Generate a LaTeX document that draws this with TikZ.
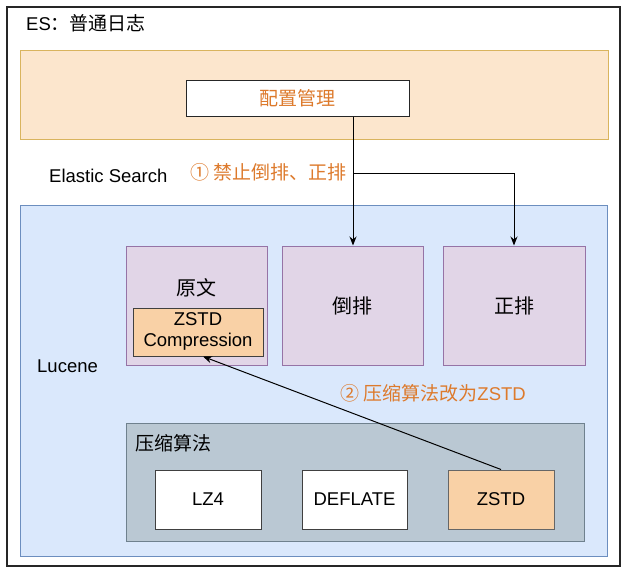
\documentclass[tikz,border=0pt]{standalone}
\usepackage{fontspec}
\setmainfont{Liberation Sans}
\newfontfamily\cjk{Noto Sans CJK SC}
\usetikzlibrary{arrows.meta,fit}
\definecolor{orfill}{HTML}{FCE6CD}
\definecolor{ordraw}{HTML}{D9B45E}
\definecolor{ortext}{HTML}{DD7A2C}
\definecolor{blfill}{HTML}{DAE8FC}
\definecolor{bldraw}{HTML}{6C8EBF}
\definecolor{pufill}{HTML}{E1D5E7}
\definecolor{pudraw}{HTML}{9673A6}
\definecolor{grfill}{HTML}{BAC8D3}
\definecolor{grdraw}{HTML}{6F818E}
\definecolor{zsfill}{HTML}{F9D1A6}
\newcommand{\lat}{\normalfont\fontsize{18.5}{21}\selectfont}
\newcommand{\zh}{\cjk\fontsize{19}{23}\selectfont}
\begin{document}
\begin{tikzpicture}[x=1pt,y=-1pt,
  box/.style={draw, rectangle, inner sep=0pt, line width=1pt},
  arr/.style={-{Stealth[length=9pt,width=7pt]}, line width=1pt, black}]
\useasboundingbox (0,0) rectangle (626,571);
% outer frame
\node[box, draw=black!85, line width=1.5pt, fit={(7,7) (620,566)}] (outer) {};
\node[anchor=west, inner sep=0pt] (title) at (26,23) {\lat ES\zh：普通日志};
% orange band
\node[box, fill=orfill, draw=ordraw, fit={(20,50) (608,139)}] (band) {};
\node[box, fill=white, draw=black!85, fit={(186,80) (409,116)}] (cfg) {};
\node[text=ortext, inner sep=0pt] (cfgtxt) at (cfg.center) {\zh 配置管理};
\node[anchor=west, inner sep=0pt] (eslabel) at (49,176) {\lat Elastic Search};
\node[anchor=east, inner sep=0pt, text=ortext] (step1) at (347,172) {\zh ① 禁止倒排、正排};
% Lucene
\node[box, fill=blfill, draw=bldraw, fit={(20,205) (607,556)}] (lucene) {};
\node[anchor=west, inner sep=0pt] (lucenelabel) at (37,366) {\lat Lucene};
\node[box, fill=pufill, draw=pudraw, fit={(126,246) (267,365)}] (yuanwen) {};
\node[inner sep=0pt] (ywtxt) at (196,288) {\zh\fontsize{20}{24}\selectfont 原文};
\node[box, fill=zsfill, draw=black!75, fit={(133,308) (263,356)}] (zc) {};
\node[inner sep=0pt, align=center, font=\lat] (zctxt) at ([yshift=1pt]zc.center) {ZSTD\\Compression};
\node[box, fill=pufill, draw=pudraw, fit={(282,246) (423,365)}] (daopai) {};
\node[inner sep=0pt] (dptxt) at (daopai.center) {\zh\fontsize{20}{24}\selectfont 倒排};
\node[box, fill=pufill, draw=pudraw, fit={(443,246) (585,365)}] (zhengpai) {};
\node[inner sep=0pt] (zptxt) at (zhengpai.center) {\zh\fontsize{20}{24}\selectfont 正排};
\node[anchor=west, inner sep=0pt, text=ortext] (step2) at (340,393) {\zh ② 压缩算法改为\lat ZSTD};
% compression group
\node[box, fill=grfill, draw=grdraw, fit={(126,423) (584,541)}] (group) {};
\node[anchor=west, inner sep=0pt] (grouplabel) at (135,443) {\zh 压缩算法};
\node[box, fill=white, draw=black!75, fit={(155,470) (261,529)}] (lz4) {};
\node[inner sep=0pt] at (lz4.center) {\lat LZ4};
\node[box, fill=white, draw=black!75, fit={(302,470) (407,529)}] (deflate) {};
\node[inner sep=0pt] at (deflate.center) {\lat DEFLATE};
\node[box, fill=zsfill, draw=black!60, fit={(448,470) (554,529)}] (zstd) {};
\node[inner sep=0pt] at (zstd.center) {\lat ZSTD};
% connectors
\coordinate (br) at (353,173);
\draw[arr] (cfg.south -| br) -- (daopai.north -| br);
\draw[arr] (br) -| (zhengpai.north);
\draw[arr] (zstd.north) -- ([xshift=5pt]zc.south);
\end{tikzpicture}
\end{document}
